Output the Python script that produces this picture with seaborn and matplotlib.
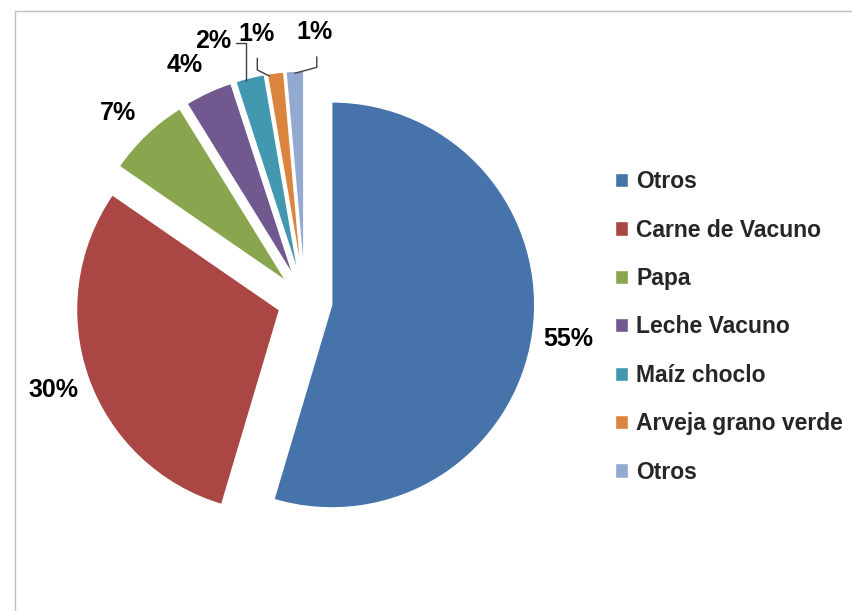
#Share pie chart (exploded, Excel style)

#Import packages
import seaborn as sns
import matplotlib.pyplot as plt
import numpy as np

labels = ['Otros', 'Carne de Vacuno', 'Papa', 'Leche Vacuno', 'Maíz choclo',
          'Arveja grano verde', 'Otros']
shares = [54.6, 30.0, 6.6, 3.8, 2.3, 1.3, 1.4]
colors = ['#4674AA', '#AA4643', '#89A54E', '#71588F', '#4198AF', '#DB843D', '#93A9CF']

sns.set_style('white')
plt.rcParams['font.family'] = ['Liberation Sans', 'DejaVu Sans']

fig = plt.figure(figsize=(8.52, 6.11), dpi=100)
ax = fig.add_axes([0, 0, 1, 1])

expl = 0.133
wedges, texts, autotexts = ax.pie(
    shares, colors=colors, startangle=90, counterclock=False,
    explode=[expl] * len(shares), radius=1.0,
    autopct='%1.0f%%', pctdistance=1.18,
    wedgeprops=dict(edgecolor='white', linewidth=1),
    textprops=dict(fontsize=18, fontweight='bold', color='black'))

#pixel scale: 203 px per unit, pie centre at (305, 301) from top-left
S, x0, y0 = 203, 305, 301
ax.set_xlim(-x0 / S, (852 - x0) / S)
ax.set_ylim(-(611 - y0) / S, y0 / S)
ax.set_aspect('auto')
ax.axis('off')

#label placement near the top (Excel moved these, small ones get leader lines)
def arc_point(w, r=0.99, frac=0.5):
    th = np.deg2rad(w.theta1 + frac * (w.theta2 - w.theta1))
    return np.array([w.center[0] + r * np.cos(th), w.center[1] + r * np.sin(th)])

label_pos = {2: (-0.921, 0.926), 3: (-0.591, 1.163),
             4: (-0.451, 1.281), 5: (-0.239, 1.315), 6: (0.049, 1.323)}
for i, (lx, ly) in label_pos.items():
    autotexts[i].set_position((lx, ly))

lc = '#404040'
#2% : horizontal then down onto the wedge
p = arc_point(wedges[4], frac=0.64)
ax.plot([-0.340, p[0], p[0]], [1.271, 1.271, p[1]], color=lc, lw=1)
#1% orange : down then across to the wedge
p = arc_point(wedges[5], frac=0.9)
ax.plot([-0.235, -0.235, p[0]], [1.196, 1.138, p[1]], color=lc, lw=1)
#1% light blue
p = arc_point(wedges[6], frac=0.5)
ax.plot([0.058, 0.058, p[0]], [1.203, 1.151, p[1]], color=lc, lw=1)

#legend on the right
ax.legend(wedges, labels, loc='center left', bbox_to_anchor=(615 / 852, 0.465),
          bbox_transform=fig.transFigure, frameon=False, borderpad=0,
          borderaxespad=0, handlelength=0.58, handleheight=0.58,
          handletextpad=0.35, labelspacing=1.11,
          prop=dict(family='Liberation Sans', weight='bold', size=16.5))

#light gray chart frame
fig.add_artist(plt.Line2D([15 / 852, 15 / 852], [0, 1 - 11 / 611],
                          transform=fig.transFigure, color='#BFBFBF', lw=1))
fig.add_artist(plt.Line2D([15 / 852, 1], [1 - 11 / 611, 1 - 11 / 611],
                          transform=fig.transFigure, color='#BFBFBF', lw=1))

fig.savefig('out.png', dpi=100)
